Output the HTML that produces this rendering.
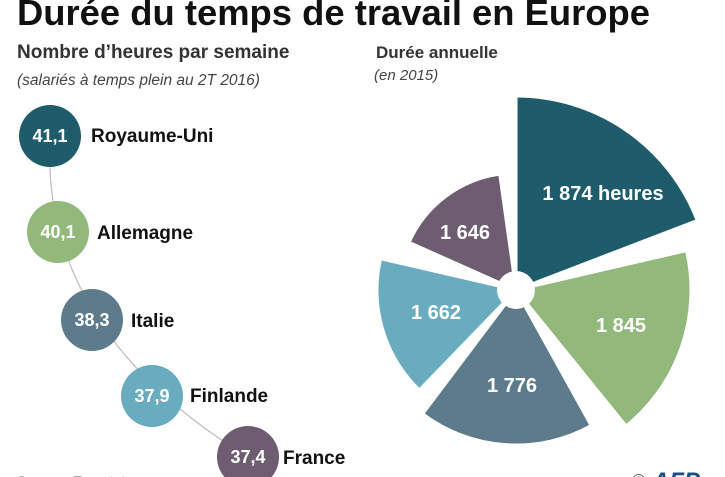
<!DOCTYPE html>
<html><head><meta charset="utf-8"><style>
html,body{margin:0;padding:0;background:#fff;}
svg{display:block;font-family:"Liberation Sans",sans-serif;}
</style></head><body>
<svg width="725" height="477" viewBox="0 0 725 477">
<text x="17" y="25" font-size="36" font-weight="bold" fill="#111" textLength="633" lengthAdjust="spacingAndGlyphs">Durée du temps de travail en Europe</text>
<text x="17" y="58" font-size="19" font-weight="bold" fill="#333">Nombre d’heures par semaine</text>
<text x="17" y="85" font-size="15.5" font-style="italic" fill="#444">(salariés à temps plein au 2T 2016)</text>
<text x="376" y="58" font-size="17" font-weight="bold" fill="#333">Durée annuelle</text>
<text x="374" y="80" font-size="15" font-style="italic" fill="#444">(en 2015)</text>
<path d="M50,136 Q40,330 248,457" fill="none" stroke="#bbb" stroke-width="1.2"/>
<g font-size="18" font-weight="bold" text-anchor="middle" fill="#fff">
<circle cx="50" cy="136" r="31" fill="#1f5c6b"/><text x="50" y="142">41,1</text>
<circle cx="58" cy="232" r="31" fill="#92b87c"/><text x="58" y="238">40,1</text>
<circle cx="92" cy="320" r="31" fill="#5e7b8c"/><text x="92" y="326">38,3</text>
<circle cx="152" cy="396" r="31" fill="#6aacbf"/><text x="152" y="402">37,9</text>
<circle cx="248" cy="457" r="31" fill="#6e5c70"/><text x="248" y="463">37,4</text>
</g>
<g font-size="19" font-weight="bold" fill="#111">
<text x="91" y="142">Royaume-Uni</text>
<text x="97" y="239">Allemagne</text>
<text x="131" y="327">Italie</text>
<text x="190" y="402">Finlande</text>
<text x="283" y="464">France</text>
</g>
<g stroke="#fff" stroke-width="3" stroke-linejoin="round">
<path d="M516,290 L516,96 A194,194 0 0 1 697.2,220.5 Z" fill="#1f5c6b"/>
<path d="M516,290 L686.5,250.6 A175,175 0 0 1 626.1,426 Z" fill="#92b87c"/>
<path d="M516,290 L591.2,425.6 A155,155 0 0 1 422.7,413.8 Z" fill="#5e7b8c"/>
<path d="M516,290 L419.4,390 A139,139 0 0 1 380.6,258.7 Z" fill="#6aacbf"/>
<path d="M516,290 L409.1,242.4 A117,117 0 0 1 499.7,174.2 Z" fill="#6e5c70"/>
</g>
<circle cx="516" cy="290" r="19" fill="#fff"/>
<g font-size="20" font-weight="bold" fill="#fff" text-anchor="middle">
<text x="603" y="200">1 874 heures</text>
<text x="621" y="332">1 845</text>
<text x="512" y="392">1 776</text>
<text x="436" y="319">1 662</text>
<text x="465" y="239">1 646</text>
</g>
<text x="17" y="486" font-size="14" fill="#444">Source : Eurostat</text>
<text x="632" y="487" font-size="18" fill="#555">©</text>
<text x="652" y="489" font-size="24" font-weight="bold" font-style="italic" fill="#1a4f8a">AFP</text>
</svg>
</body></html>
